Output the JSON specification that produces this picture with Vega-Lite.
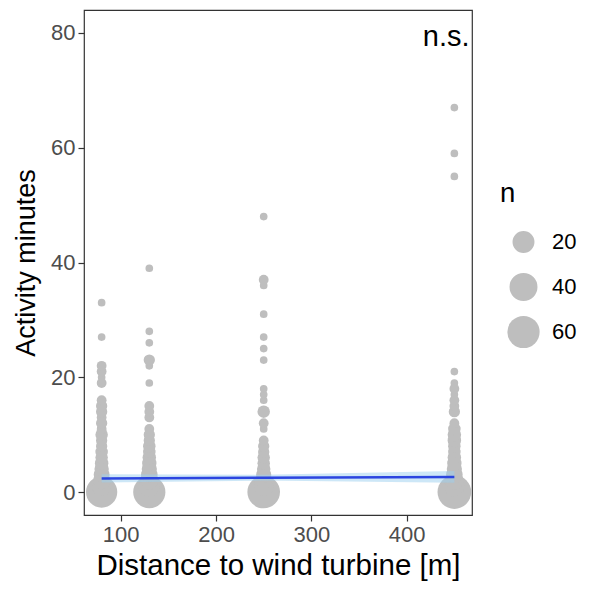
{
  "$schema": "https://vega.github.io/schema/vega-lite/v6.json",
  "width": 388,
  "height": 505,
  "autosize": "none",
  "padding": {"left": 84, "top": 10, "right": 118, "bottom": 75},
  "background": "white",
  "config": {
    "font": "Liberation Sans",
    "view": {"stroke": "#333333", "strokeWidth": 1.2},
    "axis": {
      "grid": false,
      "domain": false,
      "tickColor": "#333333",
      "tickSize": 6,
      "tickWidth": 1.2,
      "labelColor": "#4d4d4d",
      "labelFontSize": 22,
      "labelFont": "Liberation Sans",
      "titleFont": "Liberation Sans",
      "titleFontSize": 27.5,
      "titleFontWeight": "normal",
      "titleColor": "#000000",
      "labelPadding": 3
    }
  },
  "datasets": {
    "pts": [
      {"d": 80, "m": 0, "n": 55}, {"d": 80, "m": 1, "n": 14}, {"d": 80, "m": 2, "n": 10}, {"d": 80, "m": 3, "n": 8},
      {"d": 80, "m": 4, "n": 6}, {"d": 80, "m": 5, "n": 5}, {"d": 80, "m": 6, "n": 4}, {"d": 80, "m": 7, "n": 4},
      {"d": 80, "m": 8, "n": 3}, {"d": 80, "m": 9, "n": 3}, {"d": 80, "m": 10, "n": 4}, {"d": 80, "m": 11, "n": 2},
      {"d": 80, "m": 12, "n": 3}, {"d": 80, "m": 13, "n": 2}, {"d": 80, "m": 14, "n": 3}, {"d": 80, "m": 15, "n": 3},
      {"d": 80, "m": 16, "n": 2}, {"d": 80, "m": 19, "n": 2}, {"d": 80, "m": 20, "n": 1}, {"d": 80, "m": 21, "n": 2},
      {"d": 80, "m": 22, "n": 2}, {"d": 80, "m": 27, "n": 1}, {"d": 80, "m": 33, "n": 1},
      {"d": 130, "m": 0, "n": 60}, {"d": 130, "m": 1, "n": 18}, {"d": 130, "m": 2, "n": 12}, {"d": 130, "m": 3, "n": 9},
      {"d": 130, "m": 4, "n": 7}, {"d": 130, "m": 5, "n": 6}, {"d": 130, "m": 6, "n": 5}, {"d": 130, "m": 7, "n": 4},
      {"d": 130, "m": 8, "n": 4}, {"d": 130, "m": 9, "n": 3}, {"d": 130, "m": 10, "n": 3}, {"d": 130, "m": 11, "n": 2},
      {"d": 130, "m": 13, "n": 2}, {"d": 130, "m": 14, "n": 2}, {"d": 130, "m": 15, "n": 2}, {"d": 130, "m": 19, "n": 1},
      {"d": 130, "m": 22, "n": 1}, {"d": 130, "m": 23, "n": 3}, {"d": 130, "m": 26, "n": 1}, {"d": 130, "m": 28, "n": 1},
      {"d": 130, "m": 39, "n": 1},
      {"d": 250, "m": 0, "n": 62}, {"d": 250, "m": 1, "n": 15}, {"d": 250, "m": 2, "n": 10}, {"d": 250, "m": 3, "n": 7},
      {"d": 250, "m": 4, "n": 5}, {"d": 250, "m": 5, "n": 4}, {"d": 250, "m": 6, "n": 4}, {"d": 250, "m": 7, "n": 3},
      {"d": 250, "m": 8, "n": 3}, {"d": 250, "m": 9, "n": 2}, {"d": 250, "m": 11, "n": 1}, {"d": 250, "m": 12, "n": 2},
      {"d": 250, "m": 14, "n": 4}, {"d": 250, "m": 16, "n": 1}, {"d": 250, "m": 17, "n": 1}, {"d": 250, "m": 18, "n": 1},
      {"d": 250, "m": 23, "n": 1}, {"d": 250, "m": 25, "n": 1}, {"d": 250, "m": 27, "n": 1}, {"d": 250, "m": 31, "n": 1},
      {"d": 250, "m": 36, "n": 1}, {"d": 250, "m": 37, "n": 2}, {"d": 250, "m": 48, "n": 1},
      {"d": 450, "m": 0, "n": 68}, {"d": 450, "m": 1, "n": 16}, {"d": 450, "m": 2, "n": 12}, {"d": 450, "m": 3, "n": 9},
      {"d": 450, "m": 4, "n": 7}, {"d": 450, "m": 5, "n": 6}, {"d": 450, "m": 6, "n": 5}, {"d": 450, "m": 7, "n": 4},
      {"d": 450, "m": 8, "n": 4}, {"d": 450, "m": 9, "n": 5}, {"d": 450, "m": 10, "n": 5}, {"d": 450, "m": 11, "n": 4},
      {"d": 450, "m": 12, "n": 2}, {"d": 450, "m": 14, "n": 3}, {"d": 450, "m": 15, "n": 2}, {"d": 450, "m": 16, "n": 2},
      {"d": 450, "m": 17, "n": 1}, {"d": 450, "m": 18, "n": 2}, {"d": 450, "m": 19, "n": 1}, {"d": 450, "m": 21, "n": 1},
      {"d": 450, "m": 55, "n": 1}, {"d": 450, "m": 59, "n": 1}, {"d": 450, "m": 67, "n": 1}
    ],
    "fit": [
      {"d": 80, "fit": 2.38, "lo": 1.65, "hi": 3.1},
      {"d": 250, "fit": 2.5, "lo": 2.0, "hi": 3.0},
      {"d": 450, "fit": 2.62, "lo": 1.6, "hi": 3.65}
    ],
    "lab": [{"d": 466, "m": 80, "t": "n.s."}]
  },
  "layer": [
    {
      "data": {"name": "pts"},
      "mark": {"type": "circle", "color": "#bebebe", "opacity": 1},
      "encoding": {
        "x": {"field": "d", "type": "quantitative", "scale": {"domain": [61.5, 468.5], "nice": false, "zero": false},
              "axis": {"values": [100, 200, 300, 400], "title": "Distance to wind turbine [m]", "titlePadding": 6, "titleFontSize": 29.5}},
        "y": {"field": "m", "type": "quantitative", "scale": {"domain": [-4, 84], "nice": false, "zero": false},
              "axis": {"values": [0, 20, 40, 60, 80], "title": "Activity minutes", "titlePadding": 10, "titleFontSize": 27}},
        "size": {"field": "n", "type": "quantitative",
                 "scale": {"type": "pow", "exponent": 0.7, "domain": [0, 70], "range": [0, 1157]},
                 "legend": {"values": [20, 40, 60], "title": "n", "orient": "none", "legendX": 416, "legendY": 170,
                            "titleFontSize": 27.5, "titleFontWeight": "normal", "titleColor": "#000000", "titlePadding": 12,
                            "labelFontSize": 22, "labelColor": "#000000", "symbolFillColor": "#bebebe", "symbolStrokeWidth": 0,
                            "symbolType": "circle", "symbolOpacity": 1, "clipHeight": 45, "rowPadding": 0, "labelOffset": 12, "symbolOffset": 7}}
      }
    },
    {
      "data": {"name": "fit"},
      "mark": {"type": "area", "color": "#9ccff0", "opacity": 0.5},
      "encoding": {
        "x": {"field": "d", "type": "quantitative"},
        "y": {"field": "lo", "type": "quantitative"},
        "y2": {"field": "hi"}
      }
    },
    {
      "data": {"name": "fit"},
      "mark": {"type": "line", "color": "#2B45E0", "strokeWidth": 2.5},
      "encoding": {
        "x": {"field": "d", "type": "quantitative"},
        "y": {"field": "fit", "type": "quantitative"}
      }
    },
    {
      "data": {"name": "lab"},
      "mark": {"type": "text", "align": "right", "baseline": "middle", "fontSize": 29, "dy": 4, "color": "#000000", "font": "Liberation Sans"},
      "encoding": {
        "x": {"field": "d", "type": "quantitative"},
        "y": {"field": "m", "type": "quantitative"},
        "text": {"field": "t"}
      }
    }
  ]
}
